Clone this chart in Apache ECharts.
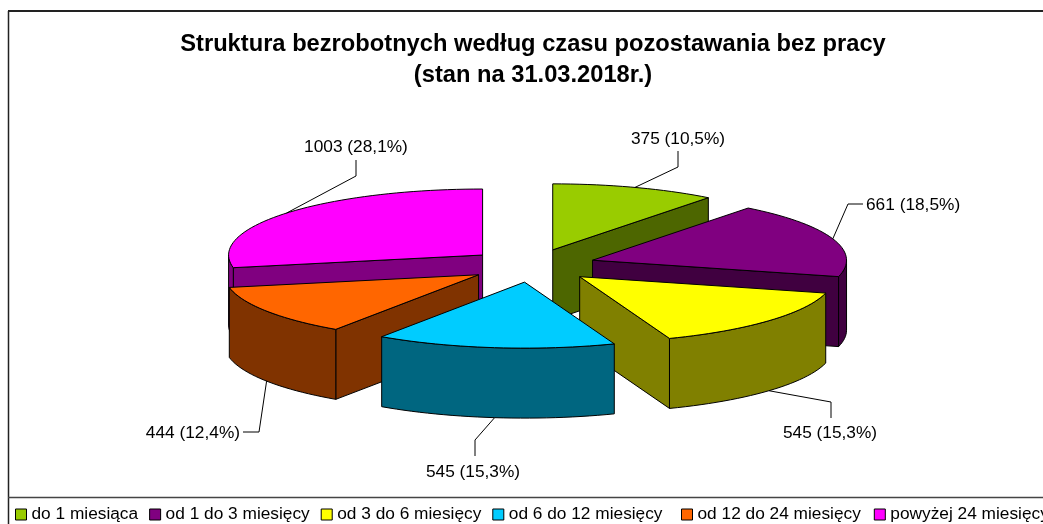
<!DOCTYPE html>
<html>
<head>
	<title>Struktura bezrobotnych</title>
	<meta charset="utf-8" />
	<script type="text/javascript" src="https://cdn.jsdelivr.net/npm/echarts@6/dist/echarts.min.js"></script>
	<style type="text/css">
		html, body{ margin: 0; padding: 0; background: #fff; }
		#container{ width: 1043px; height: 524px; overflow: hidden; }
	</style>
</head>
<body>
<div id="container"></div>
<script type="text/javascript">
	// dane
	var categories = ['do 1 miesiąca', 'od 1 do 3 miesięcy', 'od 3 do 6 miesięcy', 'od 6 do 12 miesięcy', 'od 12 do 24 miesięcy', 'powyżej 24 miesięcy'];
	var values = [375, 661, 545, 545, 444, 1003];
	var chartTitle = 'Struktura bezrobotnych według czasu pozostawania bez pracy\n(stan na 31.03.2018r.)';

	// kolory: wierzch i bok
	var topColors = ['#99CC00', '#800080', '#FFFF00', '#00CCFF', '#FF6600', '#FF00FF'];
	var sideColors = ['#4D6600', '#400040', '#808000', '#006680', '#803300', '#800080'];

	// kolejnosc rysowania (od tylu do przodu)
	var drawOrder = [0, 1, 5, 4, 2, 3];

	// geometria pseudo 3D
	var CX = 532, CY = 265.6;      // srodek kola
	var RX = 254, RY = 66;         // polosie elipsy
	var DEPTH = 70;                // grubosc
	var EXPLODE = 64;              // odsuniecie wycinka (wzdluz rzutu)
	var FONT = '"Liberation Sans", Arial, sans-serif';

	// linie odniesienia: lamanie, koniec, pozycja etykiety
	var leaders = [
		{ elbow: [678, 167], end: [678, 151], text: [678, 139], align: 'center' },
		{ elbow: [848, 204], end: [863, 204], text: [866, 205], align: 'left' },
		{ elbow: [831, 402], end: [831, 418], text: [830, 433], align: 'center' },
		{ elbow: [475, 440], end: [475, 456], text: [473, 472], align: 'center' },
		{ elbow: [259, 432], end: [243, 432], text: [240, 433], align: 'right' },
		{ elbow: [356, 176], end: [356, 160], text: [356, 147], align: 'center' }
	];

	var total = 0;
	values.forEach(function(v){ total += v; });

	function rad(d){ return d * Math.PI / 180; }

	function rimPoint(ax, ay, deg){
		return [ax + RX * Math.sin(rad(deg)), ay - RY * Math.cos(rad(deg))];
	}

	function arcPoints(ax, ay, from, to){
		var pts = [];
		var n = Math.max(2, Math.ceil((to - from) / 2));
		for(var i = 0; i <= n; i++){
			pts.push(rimPoint(ax, ay, from + (to - from) * i / n));
		}
		return pts;
	}

	function down(pts){
		return pts.map(function(p){ return [p[0], p[1] + DEPTH]; });
	}

	function face(points, fill, z2){
		return {
			type: 'polygon',
			z2: z2,
			shape: { points: points },
			style: { fill: fill, stroke: '#000', lineWidth: 1, lineJoin: 'round' }
		};
	}

	function renderSlice(idx, start, value){
		return function(params, api){
			var end = start + api.value(0) / total * 360;
			var mid = (start + end) / 2;
			var ax = CX + EXPLODE * Math.sin(rad(mid));
			var ay = CY - EXPLODE * RY / RX * Math.cos(rad(mid));
			var children = [];

			// sciany przekroju widoczne z przodu
			if(start > 180 && start < 360){
				var s = rimPoint(ax, ay, start);
				children.push(face([[ax, ay], s, [s[0], s[1] + DEPTH], [ax, ay + DEPTH]], sideColors[idx], 1));
			}
			if(end > 0 && end < 180){
				var e = rimPoint(ax, ay, end);
				children.push(face([[ax, ay], e, [e[0], e[1] + DEPTH], [ax, ay + DEPTH]], sideColors[idx], 1));
			}

			// zewnetrzna sciana (przednia polowa elipsy)
			var wallFrom = Math.max(start, 90), wallTo = Math.min(end, 270);
			if(wallTo > wallFrom){
				var wall = arcPoints(ax, ay, wallFrom, wallTo);
				children.push(face(wall.concat(down(wall).reverse()), sideColors[idx], 2));
			}

			// wierzch
			children.push(face([[ax, ay]].concat(arcPoints(ax, ay, start, end)), topColors[idx], 3));

			// linia odniesienia i etykieta
			var anchor = rimPoint(ax, ay, mid);
			if(mid > 90 && mid < 270){
				anchor[1] += DEPTH;
			}
			var l = leaders[idx];
			children.push({
				type: 'polyline',
				z2: 4,
				shape: { points: [anchor, l.elbow, l.end] },
				style: { fill: null, stroke: '#000', lineWidth: 1 }
			});
			children.push({
				type: 'text',
				z2: 5,
				style: {
					text: value + ' (' + (value / total * 100).toFixed(1).replace('.', ',') + '%)',
					x: l.text[0],
					y: l.text[1],
					align: l.align,
					verticalAlign: 'middle',
					fill: '#000',
					font: '17.3px ' + FONT
				}
			});
			return { type: 'group', children: children };
		};
	}

	var series = [];
	var acc = 0;
	values.forEach(function(v, i){
		series.push({
			name: categories[i],
			type: 'custom',
			coordinateSystem: 'none',
			z: 2 + drawOrder.indexOf(i),
			silent: true,
			animation: false,
			itemStyle: { color: topColors[i] },
			renderItem: renderSlice(i, acc / total * 360, v),
			data: [[v]]
		});
		acc += v;
	});

	function legendPart(names, left, gap){
		return {
			data: names,
			left: left,
			top: 506,
			width: 1300,
			padding: 0,
			itemWidth: 11,
			itemHeight: 11,
			itemGap: gap,
			selectedMode: false,
			icon: 'rect',
			itemStyle: { borderColor: '#000', borderWidth: 1 },
			textStyle: { fontFamily: FONT, fontSize: 17.3, color: '#000' }
		};
	}

	var chart = echarts.init(document.getElementById('container'), null, { renderer: 'canvas' });

	chart.setOption({
		animation: false,
		backgroundColor: '#fff',
		title: {
			text: chartTitle,
			left: 528,
			textAlign: 'center',
			top: 24,
			textStyle: { fontFamily: FONT, fontSize: 23.7, fontWeight: 'bold', color: '#000', lineHeight: 31 }
		},
		legend: [
			legendPart(categories.slice(0, 4), 15, 11),
			legendPart(categories.slice(4), 681, 13)
		],
		graphic: [
			{ type: 'line', silent: true, shape: { x1: 8.5, y1: 11, x2: 8.5, y2: 524 }, style: { stroke: '#222', lineWidth: 1.5 } },
			{ type: 'line', silent: true, shape: { x1: 8, y1: 11, x2: 1043, y2: 11 }, style: { stroke: '#222', lineWidth: 2 } },
			{ type: 'line', silent: true, shape: { x1: 8, y1: 497.5, x2: 1043, y2: 497.5 }, style: { stroke: '#444', lineWidth: 1.5 } }
		],
		series: series
	});
</script>
</body>
</html>
